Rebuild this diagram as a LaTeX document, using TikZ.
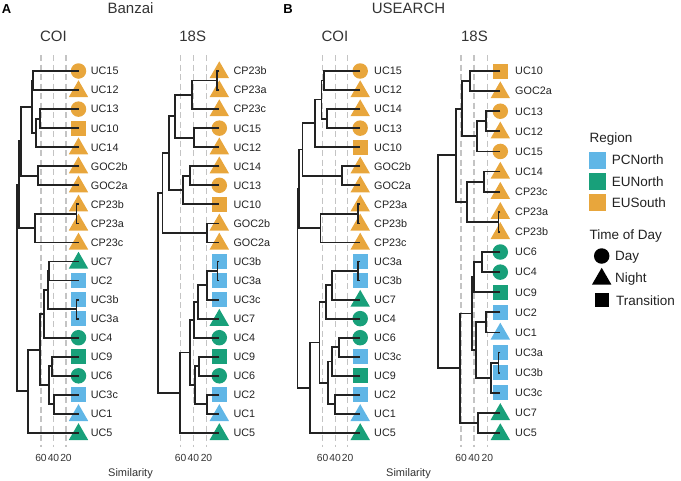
\documentclass[tikz,border=0pt]{standalone}
\usepackage{fontspec}
\setmainfont{Liberation Sans}
\usetikzlibrary{calc,shapes.geometric}
\definecolor{cO}{HTML}{E8A63C}
\definecolor{cB}{HTML}{60B6E6}
\definecolor{cG}{HTML}{18A07A}
\definecolor{ink}{HTML}{222222}
\definecolor{txt}{HTML}{333333}
\definecolor{gridc}{HTML}{C4C4C4}
\newcommand\myfs[1]{\fontsize{#1}{#1}\selectfont}
\tikzset{
  mk/.style={inner sep=0pt, outer sep=0pt, draw=none},
  circ/.style={mk, circle, minimum size=15.5pt},
  sqr/.style={mk, rectangle, minimum size=15pt},
  tri/.style={mk, regular polygon, regular polygon sides=3, minimum size=22.5pt, yshift=-1.5pt},
  UC15/.style={circ, fill=cO}, UC12/.style={tri, fill=cO}, UC13/.style={circ, fill=cO},
  UC10/.style={sqr, fill=cO}, UC14/.style={tri, fill=cO},
  GOC2a/.style={tri, fill=cO}, GOC2b/.style={tri, fill=cO},
  CP23a/.style={tri, fill=cO}, CP23b/.style={tri, fill=cO}, CP23c/.style={tri, fill=cO},
  UC7/.style={tri, fill=cG}, UC2/.style={sqr, fill=cB},
  UC3a/.style={sqr, fill=cB}, UC3b/.style={sqr, fill=cB}, UC3c/.style={sqr, fill=cB},
  UC4/.style={circ, fill=cG}, UC9/.style={sqr, fill=cG}, UC6/.style={circ, fill=cG},
  UC1/.style={tri, fill=cB}, UC5/.style={tri, fill=cG},
  lbl/.style={anchor=west, inner sep=0pt, text=ink, font=\myfs{10.8}, text height=7.7pt, text depth=0pt},
  tick/.style={anchor=center, inner sep=0pt, text=txt, font=\myfs{10.3}, text height=7.4pt, text depth=0pt},
  ttl/.style={anchor=center, inner sep=0pt, text=txt, font=\myfs{15}, text height=10.7pt, text depth=0pt},
  tag/.style={anchor=center, inner sep=0pt, text=black, font=\myfs{13}\bfseries, text height=9.4pt, text depth=0pt},
  leg/.style={anchor=west, inner sep=0pt, text=ink, font=\myfs{13.5}, text height=9.7pt, text depth=0pt},
  tree/.style={draw=ink, line width=1.8pt},
  gridl/.style={draw=gridc, line width=1.2pt, dash pattern=on 6pt off 3.5pt},
}
\newcommand\lf[5]{%
  \coordinate (#1#2) at (#3,{#4});
  \node[#2] (#1#2m) at (#1#2) {};
  \node[lbl] (#1#2t) at (#5,{#4}) {#2};
}
\newcommand\jn[4]{%
  \coordinate (tmpc) at ($(#3)!0.5!(#4)$);
  \coordinate (#1) at (#2,0 |- tmpc);
  \draw[tree] (#3) -- (#3 -| #1) -- (#4 -| #1) -- (#4);
}
\begin{document}
\begin{tikzpicture}[x=1pt,y=-1pt]
\useasboundingbox (0,0) rectangle (681,480);
% titles
\node[tag] (tA) at (6.5,9) {A};
\node[tag] (tB) at (288,9) {B};
\node[ttl] (hA) at (130.5,8.5) {Banzai};
\node[ttl] (hB) at (408.5,8.5) {USEARCH};
\node[ttl] (h1) at (53.5,36) {COI};
\node[ttl] (h2) at (192.7,36) {18S};
\node[ttl] (h3) at (335,36) {COI};
\node[ttl] (h4) at (474.5,36) {18S};
% grid lines and ticks
\foreach \x/\v in {41/60,53.5/40,66/20, 180.7/60,193.3/40,206.5/20, 322.7/60,335.2/40,347.7/20, 461/60,474/40,487.3/20}{
  \draw[gridl] (\x,55) -- (\x,447);
  \node[tick] at (\x,457.7) {\v};
}
\node[ttl, font=\myfs{11}, text height=7.9pt, text depth=2.3pt] (s1) at (130.5,473.5) {Similarity};
\node[ttl, font=\myfs{11}, text height=7.9pt, text depth=2.3pt] (s2) at (408.5,473.5) {Similarity};
% ---------- A COI
\foreach \nm [count=\i from 0] in {UC15,UC12,UC13,UC10,UC14,GOC2b,GOC2a,CP23b,CP23a,CP23c,UC7,UC2,UC3b,UC3a,UC4,UC9,UC6,UC3c,UC1,UC5}{
  \lf{a}{\nm}{78.5}{71+\i*19.05}{90.7}
}
\jn{an1}{33.3}{aUC15}{aUC12}
\jn{an2}{40.3}{aUC13}{aUC10}
\jn{an3}{35.8}{an2}{aUC14}
\jn{an4}{31.7}{an1}{an3}
\jn{an5}{38.2}{aGOC2b}{aGOC2a}
\jn{an6}{20.8}{an4}{an5}
\jn{an7}{76.5}{aCP23b}{aCP23a}
\jn{an8}{35}{an7}{aCP23c}
\jn{an9}{19}{an6}{an8}
\jn{an10}{49.3}{aUC7}{aUC2}
\jn{an11}{76.5}{aUC3b}{aUC3a}
\jn{an12}{47.7}{an10}{an11}
\jn{an13}{44}{an12}{aUC4}
\jn{an14}{51.7}{aUC9}{aUC6}
\jn{an15}{54}{aUC3c}{aUC1}
\jn{an16}{49.3}{an14}{an15}
\jn{an17}{40}{an13}{an16}
\jn{an18}{28.3}{an17}{aUC5}
\jn{aroot}{16.7}{an9}{an18}
% ---------- A 18S
\foreach \nm [count=\i from 0] in {CP23b,CP23a,CP23c,UC15,UC12,UC14,UC13,UC10,GOC2b,GOC2a,UC3b,UC3a,UC3c,UC7,UC4,UC9,UC6,UC2,UC1,UC5}{
  \lf{b}{\nm}{219.3}{71+\i*19.05}{233.3}
}
\jn{bn1}{217}{bCP23b}{bCP23a}
\jn{bn2}{191.7}{bn1}{bCP23c}
\jn{bn3}{194.3}{bUC15}{bUC12}
\jn{bn4}{175}{bn2}{bn3}
\jn{bn5}{189.7}{bUC14}{bUC13}
\jn{bn6}{182.7}{bn5}{bUC10}
\jn{bn7}{169.3}{bn4}{bn6}
\jn{bn8}{206.7}{bGOC2b}{bGOC2a}
\jn{bn9}{162.5}{bn7}{bn8}
\jn{bn10}{217.5}{bUC3b}{bUC3a}
\jn{bn11}{206.7}{bn10}{bUC3c}
\jn{bn12}{198.3}{bn11}{bUC7}
\jn{bn13}{194}{bn12}{bUC4}
\jn{bn14}{199.3}{bUC9}{bUC6}
\jn{bn15}{206.7}{bUC2}{bUC1}
\jn{bn16}{195}{bn14}{bn15}
\jn{bn17}{190}{bn13}{bn16}
\jn{bn18}{180}{bn17}{bUC5}
\jn{broot}{157.7}{bn9}{bn18}
% ---------- B COI
\foreach \nm [count=\i from 0] in {UC15,UC12,UC14,UC13,UC10,GOC2b,GOC2a,CP23a,CP23b,CP23c,UC3a,UC3b,UC7,UC4,UC6,UC3c,UC9,UC2,UC1,UC5}{
  \lf{c}{\nm}{360.2}{71+\i*19.05}{374}
}
\jn{cn1}{324.3}{cUC15}{cUC12}
\jn{cn2}{327}{cUC14}{cUC13}
\jn{cn3}{321.5}{cn1}{cn2}
\jn{cn4}{315}{cn3}{cUC10}
\jn{cn5}{341.7}{cGOC2b}{cGOC2a}
\jn{cn6}{302.5}{cn4}{cn5}
\jn{cn7}{358}{cCP23a}{cCP23b}
\jn{cn8}{320.5}{cn7}{cCP23c}
\jn{cn9}{298.8}{cn6}{cn8}
\jn{cn10}{358.3}{cUC3a}{cUC3b}
\jn{cn11}{332.3}{cn10}{cUC7}
\jn{cn12}{326}{cn11}{cUC4}
\jn{cn13}{339.3}{cUC6}{cUC3c}
\jn{cn14}{331.7}{cn13}{cUC9}
\jn{cn15}{335}{cUC2}{cUC1}
\jn{cn16}{328.3}{cn14}{cn15}
\jn{cn17}{319.5}{cn12}{cn16}
\jn{cn18}{310}{cn17}{cUC5}
\jn{croot}{297.5}{cn9}{cn18}
% ---------- B 18S
\foreach \nm [count=\i from 0] in {UC10,GOC2a,UC13,UC12,UC15,UC14,CP23c,CP23a,CP23b,UC6,UC4,UC9,UC2,UC1,UC3a,UC3b,UC3c,UC7,UC5}{
  \lf{d}{\nm}{500.3}{71+\i*20.111}{515}
}
\jn{dn1}{470}{dUC10}{dGOC2a}
\jn{dn2}{486}{dUC13}{dUC12}
\jn{dn3}{476.7}{dn2}{dUC15}
\jn{dn4}{461.7}{dn1}{dn3}
\jn{dn5}{484}{dUC14}{dCP23c}
\jn{dn6}{498.5}{dCP23a}{dCP23b}
\jn{dn7}{467.3}{dn5}{dn6}
\jn{dn8}{455.7}{dn4}{dn7}
\jn{dn9}{481.7}{dUC6}{dUC4}
\jn{dn10}{474.3}{dn9}{dUC9}
\jn{dn11}{486}{dUC2}{dUC1}
\jn{dn12}{498.5}{dUC3a}{dUC3b}
\jn{dn13}{490.7}{dn12}{dUC3c}
\jn{dn14}{475.7}{dn11}{dn13}
\jn{dn15}{471.7}{dn10}{dn14}
\jn{dn16}{477.7}{dUC7}{dUC5}
\jn{dn17}{460}{dn15}{dn16}
\jn{droot}{438.3}{dn8}{dn17}
% ---------- legend
\node[leg] (lr) at (589.5,138) {Region};
\node[sqr, minimum size=17pt, fill=cB] (k1) at (597.8,160) {};
\node[sqr, minimum size=17pt, fill=cG] (k2) at (597.8,181.3) {};
\node[sqr, minimum size=17pt, fill=cO] (k3) at (597.8,202.8) {};
\node[leg] (k1t) at (611.7,160) {PCNorth};
\node[leg] (k2t) at (611.7,181.3) {EUNorth};
\node[leg] (k3t) at (611.7,202.8) {EUSouth};
\node[leg] (lt) at (589.5,235) {Time of Day};
\node[circ, fill=black] (m1) at (601.7,256) {};
\node[tri, fill=black] (m2) at (601.7,277.5) {};
\node[sqr, minimum size=14pt, fill=black] (m3) at (601.7,300) {};
\node[leg] (m1t) at (615,256) {Day};
\node[leg] (m2t) at (615,277.5) {Night};
\node[leg] (m3t) at (616,301) {Transition};
\end{tikzpicture}
\end{document}
